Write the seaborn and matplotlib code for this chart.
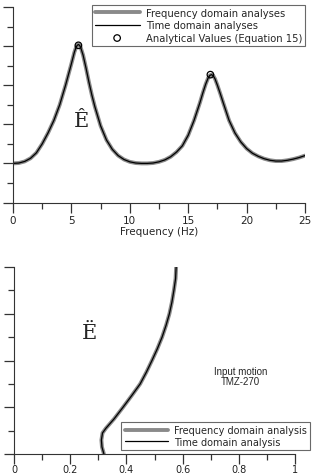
import numpy as np
import pandas as pd
import matplotlib
matplotlib.use("Agg")
import matplotlib.pyplot as plt
import seaborn as sns
from matplotlib.ticker import MultipleLocator, NullFormatter


# Top panel: amplification spectrum
freq = [0, 0.5, 1.0, 1.5, 2.0, 2.5, 3.0, 3.5, 4.0, 4.5, 5.0, 5.25, 5.4, 5.5,
        5.6, 5.7, 5.8, 6.0, 6.25, 6.5, 6.75, 7.0, 7.5, 8.0, 8.5, 9.0, 9.5,
        10.0, 10.5, 11.0, 11.5, 12.0, 12.5, 13.0, 13.5, 14.0, 14.5, 15.0,
        15.5, 16.0, 16.25, 16.5, 16.7, 16.85, 17.0, 17.15, 17.3, 17.5, 17.75,
        18.0, 18.5, 19.0, 19.5, 20.0, 20.5, 21.0, 21.5, 22.0, 22.5, 23.0,
        23.5, 24.0, 24.5, 25.0]
amp = [1.0, 1.01, 1.05, 1.13, 1.27, 1.5, 1.78, 2.1, 2.5, 3.0, 3.55, 3.84,
       3.97, 4.02, 4.04, 4.02, 3.96, 3.77, 3.44, 3.08, 2.75, 2.46, 1.96,
       1.6, 1.36, 1.2, 1.1, 1.04, 1.01, 1.0, 1.0, 1.01, 1.04, 1.09, 1.17,
       1.29, 1.45, 1.72, 2.1, 2.55, 2.8, 3.03, 3.18, 3.25, 3.27, 3.24, 3.16,
       3.0, 2.78, 2.55, 2.1, 1.78, 1.55, 1.38, 1.26, 1.18, 1.12, 1.08, 1.06,
       1.06, 1.08, 1.11, 1.15, 1.2]
peak_freq = [5.6, 16.9]
peak_amp = [4.02, 3.27]

# Bottom panel: profile with depth
depth = [0, 2.5, 5, 7.5, 10, 12.5, 15, 17.5, 20, 22.5, 25, 27.5, 30, 32.5,
         34.5, 35.5, 37, 38.5, 40]
profile = [0.577, 0.575, 0.569, 0.562, 0.553, 0.541, 0.527, 0.510, 0.491,
           0.471, 0.449, 0.419, 0.388, 0.356, 0.327, 0.315, 0.311, 0.313,
           0.320]

sns.set_style("ticks")
plt.rcParams["font.family"] = ["DejaVu Sans"]
plt.rcParams["font.size"] = 7.5

spec = pd.DataFrame({"freq": freq, "amp": amp})
prof = pd.DataFrame({"depth": depth, "value": profile})

fig = plt.figure(figsize=(3.13, 4.77), dpi=100)
ax1 = fig.add_axes([13 / 313, 1 - 203.5 / 477, 292 / 313, 195.5 / 477])
ax2 = fig.add_axes([14 / 313, 1 - 455 / 477, 281 / 313, 187 / 477])

for ax in (ax1, ax2):
    sns.despine(ax=ax)
    ax.spines["left"].set_color("#333333")
    ax.spines["bottom"].set_color("#333333")
    ax.tick_params(which="major", direction="out", length=7, width=0.9,
                   colors="#333333", labelsize=7.5, labelcolor="#222222",
                   pad=2)
    ax.tick_params(which="minor", direction="out", length=4, width=0.9,
                   colors="#333333")
    ax.yaxis.set_major_formatter(NullFormatter())

# top panel
sns.lineplot(data=spec, x="freq", y="amp", ax=ax1, color="#8a8a8a", lw=2.8,
             label="Frequency domain analyses")
sns.lineplot(data=spec, x="freq", y="amp", ax=ax1, color="black", lw=0.9,
             label="Time domain analyses")
sns.scatterplot(x=peak_freq, y=peak_amp, ax=ax1, marker="o", s=22,
                facecolor="none", edgecolor="black", linewidth=0.9,
                label="Analytical Values (Equation 15)", zorder=5)
ax1.set_xlim(0, 25)
ax1.set_ylim(0, 5)
ax1.xaxis.set_major_locator(MultipleLocator(5))
ax1.xaxis.set_minor_locator(MultipleLocator(2.5))
ax1.yaxis.set_major_locator(MultipleLocator(1))
ax1.yaxis.set_minor_locator(MultipleLocator(0.5))
ax1.set_xlabel("Frequency (Hz)", fontsize=7.5, labelpad=1)
ax1.set_ylabel("")
leg1 = ax1.legend(loc="upper right", bbox_to_anchor=(1.0, 1.012), fontsize=7.2,
                  frameon=True, fancybox=False, edgecolor="#444444",
                  handlelength=4.5, borderpad=0.3, labelspacing=0.25,
                  handletextpad=0.6, borderaxespad=0)
leg1.get_frame().set_linewidth(0.8)
ax1.text(5.9, 2.1, "Ê", fontsize=15, family="DejaVu Serif", ha="center",
         va="center")

# bottom panel
sns.lineplot(data=prof, x="value", y="depth", ax=ax2, orient="y",
             color="#8a8a8a", lw=2.8, label="Frequency domain analysis")
sns.lineplot(data=prof, x="value", y="depth", ax=ax2, orient="y",
             color="black", lw=0.9, label="Time domain analysis")
ax2.set_xlim(0, 1)
ax2.set_ylim(40, 0)
ax2.xaxis.set_major_locator(MultipleLocator(0.2))
ax2.xaxis.set_minor_locator(MultipleLocator(0.1))
ax2.xaxis.set_major_formatter(plt.FuncFormatter(lambda v, p: f"{v:g}"))
ax2.yaxis.set_major_locator(MultipleLocator(10))
ax2.yaxis.set_minor_locator(MultipleLocator(5))
ax2.tick_params(axis="x", which="major", pad=0.5, labelsize=7)
ax2.set_xlabel("")
ax2.set_ylabel("")
leg2 = ax2.legend(loc="lower right", bbox_to_anchor=(1.055, 0.02), fontsize=7,
                  frameon=True, fancybox=False, edgecolor="#444444",
                  handlelength=4.5, borderpad=0.35, labelspacing=0.2,
                  handletextpad=0.6, borderaxespad=0)
leg2.get_frame().set_linewidth(0.8)
ax2.text(0.805, 23.3, "Input motion\nTMZ-270", fontsize=7, ha="center",
         va="center", family="Liberation Sans", linespacing=1.0)
ax2.text(0.27, 14.0, "Ë", fontsize=15, family="DejaVu Serif", ha="center",
         va="center")

fig.savefig("out.png", dpi=100)
